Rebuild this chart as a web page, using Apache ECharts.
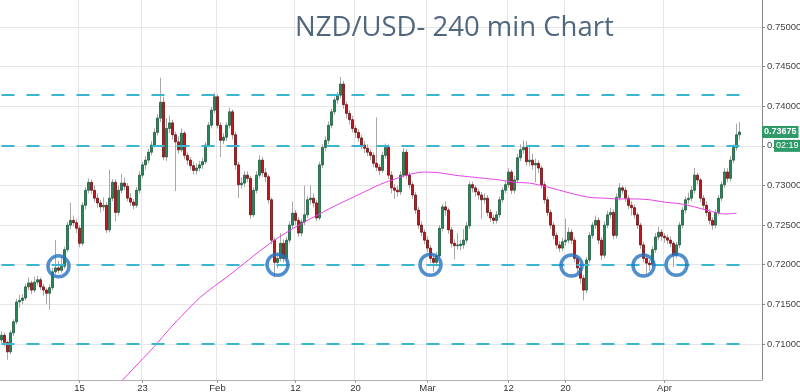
<!DOCTYPE html>
<html><head><meta charset="utf-8">
<script src="https://cdn.jsdelivr.net/npm/echarts@6/dist/echarts.min.js"></script>
<style>html,body{margin:0;padding:0;background:#fff}#c{width:800px;height:392px}</style>
</head><body><div id="c"></div>
<script>
// [open, close, low, high]
const janBars = [
[0.7105,0.7111,0.7101,0.7116],[0.7111,0.7102,0.7097,0.7114],[0.7102,0.7090,0.7080,0.7104],[0.7090,0.7114,0.7087,0.7117],
[0.7114,0.7128,0.7110,0.7131],[0.7128,0.7153,0.7125,0.7157],[0.7153,0.7155,0.7146,0.7162],[0.7155,0.7158,0.7150,0.7163],
[0.7158,0.7172,0.7155,0.7176],[0.7172,0.7177,0.7168,0.7184],[0.7177,0.7168,0.7163,0.7180],[0.7168,0.7178,0.7165,0.7185],
[0.7178,0.7181,0.7174,0.7186],[0.7181,0.7172,0.7168,0.7184],[0.7172,0.7168,0.7161,0.7176],[0.7168,0.7164,0.7150,0.7171],
[0.7164,0.7171,0.7143,0.7175],[0.7171,0.7191,0.7168,0.7196],[0.7191,0.7196,0.7188,0.7231],[0.7196,0.7193,0.7189,0.7205],
[0.7193,0.7198,0.7190,0.7210],[0.7198,0.7219,0.7195,0.7223],[0.7219,0.7250,0.7216,0.7254],[0.7250,0.7256,0.7245,0.7278],
[0.7256,0.7253,0.7248,0.7262],[0.7253,0.7246,0.7240,0.7258],[0.7246,0.7227,0.7222,0.7250],[0.7227,0.7275,0.7224,0.7279],
[0.7275,0.7294,0.7270,0.7298],[0.7294,0.7304,0.7290,0.7309],[0.7304,0.7294,0.7289,0.7308],[0.7294,0.7284,0.7279,0.7300],
[0.7284,0.7278,0.7272,0.7290],[0.7278,0.7273,0.7266,0.7282],[0.7273,0.7275,0.7268,0.7285],[0.7275,0.7244,0.7240,0.7279],
[0.7244,0.7284,0.7241,0.7320],[0.7284,0.7304,0.7280,0.7308],[0.7304,0.7266,0.7255,0.7308],[0.7266,0.7294,0.7262,0.7300],
[0.7294,0.7303,0.7290,0.7315],[0.7303,0.7299,0.7294,0.7310],[0.7299,0.7284,0.7280,0.7303],[0.7284,0.7279,0.7274,0.7290],
[0.7279,0.7275,0.7270,0.7283],[0.7275,0.7294,0.7272,0.7298],[0.7294,0.7313,0.7290,0.7318],[0.7313,0.7326,0.7309,0.7330],
[0.7326,0.7332,0.7320,0.7337],[0.7332,0.7342,0.7328,0.7346],[0.7342,0.7351,0.7338,0.7356],[0.7351,0.7367,0.7348,0.7372],
[0.7367,0.7385,0.7363,0.7390],[0.7385,0.7405,0.7380,0.7436],[0.7405,0.7336,0.7332,0.7412],[0.7336,0.7372,0.7331,0.7385],
[0.7372,0.7379,0.7366,0.7388],[0.7379,0.7364,0.7358,0.7383],[0.7364,0.7355,0.7293,0.7368],[0.7355,0.7345,0.7340,0.7362],
[0.7345,0.7366,0.7342,0.7372],[0.7366,0.7338,0.7333,0.7369],[0.7338,0.7332,0.7326,0.7342],[0.7332,0.7325,0.7320,0.7336],
[0.7325,0.7319,0.7314,0.7330],[0.7319,0.7322,0.7314,0.7328],[0.7322,0.7326,0.7318,0.7331],[0.7326,0.7330,0.7321,0.7335],
[0.7330,0.7351,0.7327,0.7355],[0.7351,0.7376,0.7348,0.7380],[0.7376,0.7395,0.7372,0.7399],[0.7395,0.7412,0.7391,0.7417]
];
const febBars = [
[0.7412,0.7376,0.7372,0.7415],[0.7376,0.7357,0.7336,0.7380],[0.7357,0.7361,0.7352,0.7366],[0.7361,0.7376,0.7356,0.7380],
[0.7376,0.7393,0.7372,0.7398],[0.7393,0.7364,0.7358,0.7396],[0.7364,0.7326,0.7320,0.7368],[0.7326,0.7301,0.7284,0.7330],
[0.7301,0.7303,0.7296,0.7310],[0.7303,0.7313,0.7298,0.7318],[0.7313,0.7309,0.7304,0.7318],[0.7309,0.7263,0.7258,0.7312],
[0.7263,0.7294,0.7260,0.7298],[0.7294,0.7313,0.7290,0.7318],[0.7313,0.7332,0.7309,0.7338],[0.7332,0.7316,0.7311,0.7336],
[0.7316,0.7311,0.7304,0.7322],[0.7311,0.7282,0.7277,0.7314],[0.7282,0.7231,0.7226,0.7285],[0.7231,0.7203,0.7184,0.7234],
[0.7203,0.7208,0.7196,0.7214],[0.7208,0.7227,0.7204,0.7240],[0.7227,0.7208,0.7203,0.7232],[0.7208,0.7231,0.7204,0.7235],
[0.7231,0.7250,0.7227,0.7255],[0.7250,0.7265,0.7246,0.7280],[0.7265,0.7256,0.7250,0.7269],[0.7256,0.7240,0.7235,0.7260],
[0.7240,0.7254,0.7236,0.7258],[0.7254,0.7263,0.7250,0.7300],[0.7263,0.7282,0.7259,0.7287],[0.7282,0.7284,0.7276,0.7300],
[0.7284,0.7278,0.7272,0.7290],[0.7278,0.7259,0.7255,0.7282],[0.7259,0.7326,0.7256,0.7330],[0.7326,0.7348,0.7322,0.7352],
[0.7348,0.7357,0.7343,0.7362],[0.7357,0.7376,0.7352,0.7381],[0.7376,0.7393,0.7372,0.7397],[0.7393,0.7408,0.7389,0.7412],
[0.7408,0.7414,0.7403,0.7418],[0.7414,0.7428,0.7410,0.7437],[0.7428,0.7402,0.7397,0.7432],[0.7402,0.7391,0.7385,0.7406],
[0.7391,0.7383,0.7377,0.7395],[0.7383,0.7372,0.7367,0.7388],[0.7372,0.7367,0.7360,0.7376],[0.7367,0.7360,0.7355,0.7371],
[0.7360,0.7351,0.7346,0.7364],[0.7351,0.7347,0.7341,0.7356],[0.7347,0.7342,0.7337,0.7352],[0.7342,0.7338,0.7332,0.7346],
[0.7338,0.7328,0.7323,0.7342],[0.7328,0.7323,0.7318,0.7386],[0.7323,0.7319,0.7313,0.7327],[0.7319,0.7338,0.7316,0.7343],
[0.7338,0.7348,0.7334,0.7353],[0.7348,0.7313,0.7308,0.7352],[0.7313,0.7297,0.7290,0.7318],[0.7297,0.7294,0.7283,0.7302],
[0.7294,0.7292,0.7286,0.7300],[0.7292,0.7313,0.7288,0.7318],[0.7313,0.7342,0.7310,0.7347],[0.7342,0.7313,0.7308,0.7346],
[0.7313,0.7301,0.7296,0.7317],[0.7301,0.7288,0.7283,0.7305],[0.7288,0.7269,0.7264,0.7292],[0.7269,0.7250,0.7245,0.7273],
[0.7250,0.7241,0.7236,0.7255],[0.7241,0.7231,0.7226,0.7245]
];
const marBars = [
[0.7231,0.7221,0.7216,0.7236],[0.7221,0.7208,0.7202,0.7225],[0.7208,0.7203,0.7191,0.7212],[0.7203,0.7211,0.7198,0.7216],
[0.7211,0.7246,0.7207,0.7250],[0.7246,0.7273,0.7242,0.7277],[0.7273,0.7269,0.7262,0.7280],[0.7269,0.7244,0.7239,0.7272],
[0.7244,0.7227,0.7222,0.7248],[0.7227,0.7224,0.7207,0.7232],[0.7224,0.7225,0.7219,0.7240],[0.7224,0.7226,0.7218,0.7231],
[0.7225,0.7231,0.7220,0.7245],[0.7231,0.7249,0.7227,0.7254],[0.7249,0.7301,0.7245,0.7305],[0.7301,0.7297,0.7291,0.7305],
[0.7297,0.7292,0.7286,0.7300],[0.7292,0.7288,0.7282,0.7296],[0.7288,0.7282,0.7258,0.7292],[0.7282,0.7284,0.7277,0.7290],
[0.7284,0.7266,0.7261,0.7288],[0.7266,0.7259,0.7254,0.7270],[0.7259,0.7256,0.7251,0.7263],[0.7256,0.7263,0.7252,0.7268],
[0.7263,0.7282,0.7259,0.7286],[0.7282,0.7294,0.7278,0.7298],[0.7294,0.7301,0.7290,0.7306],[0.7301,0.7317,0.7297,0.7322],
[0.7317,0.7294,0.7289,0.7320],[0.7294,0.7307,0.7290,0.7312],[0.7307,0.7335,0.7303,0.7340],[0.7335,0.7345,0.7331,0.7352],
[0.7345,0.7348,0.7340,0.7357],[0.7348,0.7330,0.7325,0.7356],[0.7330,0.7332,0.7325,0.7349],[0.7332,0.7326,0.7320,0.7340],
[0.7326,0.7328,0.7304,0.7334],[0.7328,0.7322,0.7316,0.7332],[0.7322,0.7301,0.7296,0.7325],[0.7301,0.7282,0.7277,0.7305],
[0.7282,0.7266,0.7261,0.7286],[0.7266,0.7250,0.7245,0.7270],[0.7250,0.7237,0.7232,0.7254],[0.7237,0.7225,0.7220,0.7241],
[0.7225,0.7221,0.7216,0.7230],[0.7221,0.7229,0.7217,0.7234],[0.7229,0.7231,0.7224,0.7258],[0.7231,0.7241,0.7227,0.7247],
[0.7241,0.7231,0.7226,0.7245],[0.7231,0.7208,0.7203,0.7235],[0.7208,0.7196,0.7190,0.7212],[0.7196,0.7183,0.7176,0.7200],
[0.7183,0.7168,0.7155,0.7187],[0.7168,0.7206,0.7164,0.7210],[0.7206,0.7237,0.7202,0.7241],[0.7237,0.7250,0.7233,0.7254],
[0.7250,0.7256,0.7245,0.7262],[0.7256,0.7231,0.7226,0.7260],[0.7231,0.7212,0.7206,0.7235],[0.7212,0.7250,0.7208,0.7255],
[0.7250,0.7263,0.7246,0.7268],[0.7263,0.7266,0.7258,0.7272],[0.7266,0.7237,0.7232,0.7270],[0.7237,0.7285,0.7233,0.7290],
[0.7285,0.7297,0.7281,0.7303],[0.7297,0.7294,0.7289,0.7300],[0.7294,0.7284,0.7279,0.7298],[0.7284,0.7275,0.7270,0.7288],
[0.7275,0.7272,0.7262,0.7280],[0.7272,0.7263,0.7258,0.7276],[0.7263,0.7250,0.7245,0.7266],[0.7250,0.7225,0.7220,0.7253],
[0.7225,0.7208,0.7203,0.7229],[0.7208,0.7202,0.7189,0.7212],[0.7202,0.7200,0.7192,0.7206],[0.7200,0.7219,0.7196,0.7223],
[0.7219,0.7235,0.7215,0.7240],[0.7235,0.7241,0.7231,0.7248],[0.7241,0.7236,0.7230,0.7245]
];
const aprBars = [
[0.7236,0.7234,0.7228,0.7240],[0.7234,0.7231,0.7226,0.7238],[0.7231,0.7227,0.7222,0.7236],[0.7227,0.7212,0.7197,0.7230],
[0.7212,0.7225,0.7208,0.7229],[0.7225,0.7250,0.7221,0.7254],[0.7250,0.7269,0.7246,0.7273],[0.7269,0.7282,0.7265,0.7286],
[0.7282,0.7284,0.7277,0.7291],[0.7284,0.7294,0.7280,0.7299],[0.7294,0.7313,0.7290,0.7322],[0.7313,0.7307,0.7301,0.7316],
[0.7307,0.7284,0.7279,0.7310],[0.7284,0.7275,0.7270,0.7288],[0.7275,0.7266,0.7261,0.7280],[0.7266,0.7256,0.7251,0.7270],
[0.7256,0.7250,0.7244,0.7260],[0.7250,0.7266,0.7246,0.7270],[0.7266,0.7284,0.7262,0.7288],[0.7284,0.7301,0.7280,0.7305],
[0.7301,0.7317,0.7297,0.7322],[0.7317,0.7309,0.7304,0.7322],[0.7309,0.7332,0.7305,0.7337],[0.7332,0.7348,0.7328,0.7352],
[0.7348,0.7364,0.7344,0.7378],[0.7364,0.73675,0.7358,0.7380]
];
const slotCount = 254;               // bar slots incl. empty right margin
const xTickIdx = [26, 47, 72, 98, 118, 142, 169, 188, 221];
const xTickLabels = ['15', '23', 'Feb', '12', '20', 'Mar', '12', '20', 'Apr'];
const maIdx = [36,41,46,51,56,61,66,71,76,81,86,91,96,101,106,111,116,121,126,131,136,141,146,151,156,161,166,171,176,181,186,191,196,201,206,211,216,221,226,231,236,241,245];
const maVal = [0.7037,0.7057,0.7077,0.7097,0.7119,0.7139,0.7158,0.7173,0.7187,0.7202,0.7217,0.7231,0.7243,0.7254,0.7264,0.7274,0.7283,0.7292,0.7301,0.7308,0.7314,0.7317,0.7316,0.7313,0.7311,0.7309,0.7307,0.7304,0.7303,0.7299,0.7294,0.7289,0.7285,0.7284,0.7283,0.7283,0.7282,0.7279,0.7277,0.7273,0.7268,0.7264,0.7265];
const levelLines = [0.7415, 0.7350, 0.7200, 0.7100];
const circleIdx = [19, 92, 143, 190, 214, 225];
const circlePrice = [0.7198, 0.7200, 0.7200, 0.7199, 0.7199, 0.7200];
const lastPrice = 0.73675;
const countdownLevel = 0.7350;
const countdownText = '02:19';

const bars = janBars.concat(febBars, marBars, aprBars);
const categories = Array.from({length: slotCount}, (_, i) => 'b' + i);
const showTick = (i) => xTickIdx.indexOf(i) >= 0;
const bodies = bars.map(b => [b[0], b[1], Math.min(b[0], b[1]), Math.max(b[0], b[1])]);
const FONT = 'Liberation Sans';

const chart = echarts.init(document.getElementById('c'), null, {renderer: 'canvas'});
chart.setOption({
  animation: false,
  backgroundColor: '#ffffff',
  title: {
    text: 'NZD/USD- 240 min Chart', left: 290, top: 9,
    textStyle: {fontFamily: 'Open Sans', fontSize: 27.5, fontWeight: 'normal', color: '#50677e'}
  },
  grid: {left: 0, right: 38, top: 0, bottom: 12, outerBoundsMode: 'none', containLabel: false},
  xAxis: {
    type: 'category', data: categories, boundaryGap: true,
    axisLine: {show: true, lineStyle: {color: '#b0b0b0'}},
    axisTick: {show: true, interval: (i) => showTick(i), alignWithLabel: true, length: 3, lineStyle: {color: '#999'}},
    axisLabel: {interval: (i) => showTick(i), formatter: (v, i) => xTickLabels[xTickIdx.indexOf(i)] || '',
      color: '#333', fontSize: 9.5, margin: 3, fontFamily: FONT},
    splitLine: {show: true, interval: (i) => showTick(i), lineStyle: {color: '#e6e6e6'}}
  },
  yAxis: {
    type: 'value', position: 'right', min: 0.70545, max: 0.75341, splitNumber: 10,
    axisLine: {show: true, lineStyle: {color: '#888'}},
    axisTick: {show: true, length: 3, lineStyle: {color: '#888'}},
    axisLabel: {formatter: v => v.toFixed(5), color: '#444', fontSize: 9.5, margin: 5,
      showMinLabel: false, showMaxLabel: false, fontFamily: FONT},
    splitLine: {show: true, showMinLine: false, showMaxLine: false, lineStyle: {color: '#e6e6e6'}}
  },
  series: [
    {
      type: 'candlestick', name: 'wicks', data: bars, barWidth: 1, z: 2,
      itemStyle: {color: '#a8a8a8', color0: '#a8a8a8', borderColor: '#a8a8a8', borderColor0: '#a8a8a8', borderWidth: 1},
      markLine: {
        silent: true, symbol: 'none', animation: false,
        label: {show: false},
        lineStyle: {type: [13, 12], color: '#3ab6d1', width: 2},
        data: levelLines.map(v => [{coord: [0, v]}, {coord: [249, v]}])
      }
    },
    {
      type: 'candlestick', name: 'NZDUSD', data: bodies, barWidth: 2, z: 3,
      itemStyle: {color: '#26885a', color0: '#c3161c', borderColor: '#1d5c3e', borderColor0: '#6c0f12', borderWidth: 0.8}
    },
    {
      type: 'line', name: 'MA', data: maIdx.map((x, i) => [x, maVal[i]]), smooth: 0.3, showSymbol: false, z: 4,
      lineStyle: {color: '#e445e4', width: 1}, clip: true,
      markLine: {
        silent: true, symbol: 'none', animation: false, z: 10,
        lineStyle: {color: 'rgba(0,0,0,0)', width: 1, type: 'solid'},
        data: [
          [{coord: [0, lastPrice]}, {coord: [slotCount - 1, lastPrice], x: 762,
            label: {show: true, position: 'end', distance: 0, formatter: lastPrice.toFixed(5),
            backgroundColor: '#2f9a68', color: '#fff', fontSize: 9, fontWeight: 'bold', padding: [2, 2, 1, 2], fontFamily: FONT}}],
          [{coord: [0, countdownLevel]}, {coord: [slotCount - 1, countdownLevel], x: 762,
            label: {show: true, position: 'end', distance: 12, formatter: countdownText,
            backgroundColor: '#2f9a68', color: '#fff', fontSize: 9, padding: [2, 2, 1, 2], fontFamily: FONT}}]
        ]
      }
    },
    {
      type: 'scatter', name: 'support', data: circleIdx.map((x, i) => [x, circlePrice[i]]), z: 6,
      symbol: 'circle', symbolSize: 21,
      itemStyle: {color: 'rgba(0,0,0,0)', borderColor: '#2473c2', borderWidth: 3.5}
    }
  ]
});
</script></body></html>
